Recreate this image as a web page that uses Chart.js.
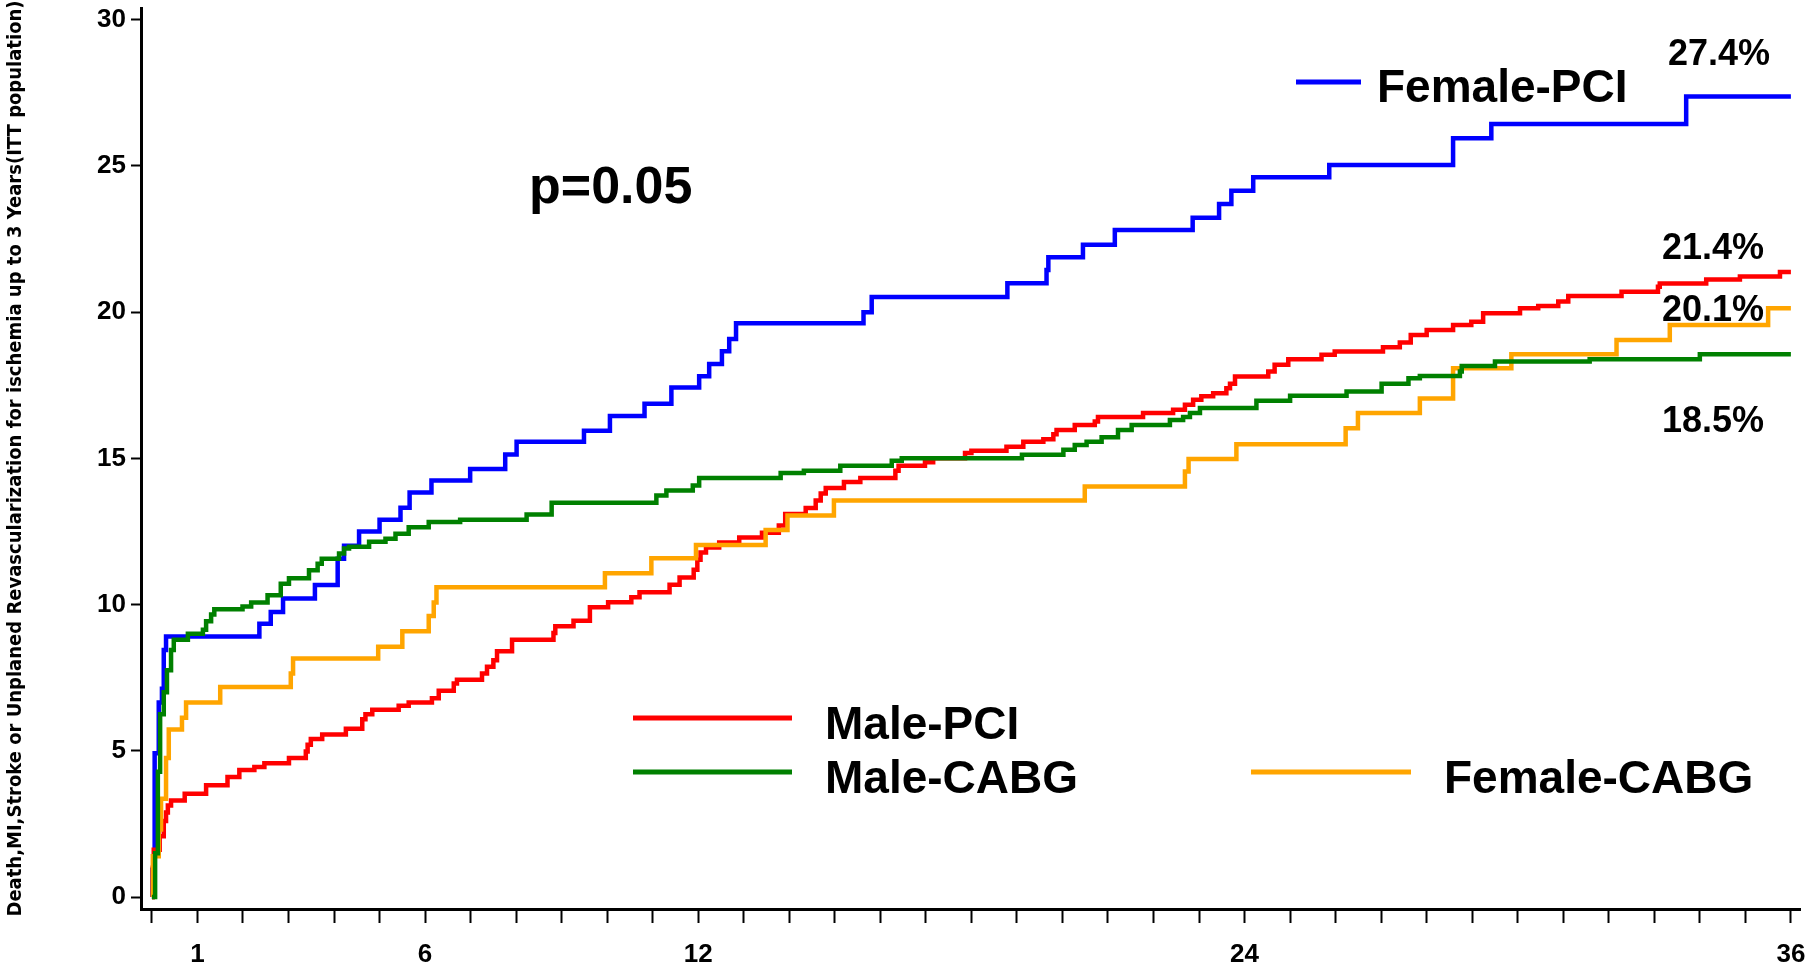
<!DOCTYPE html>
<html>
<head>
<meta charset="utf-8">
<script src="https://cdn.jsdelivr.net/npm/chart.js@4.4.1/dist/chart.umd.min.js"></script>
<style>
  html, body { margin: 0; padding: 0; background: #fff; }
  #wrap { width: 1816px; height: 973px; }
</style>
</head>
<body>
<div id="wrap"><canvas id="kmChart" width="1816" height="973"></canvas></div>
<script>
// months after randomisation at each step, and the cumulative event rate (%) from that month on
var femalePciMonths = [0, 0.01, 0.06, 0.15, 0.22, 0.26, 0.31, 2.36, 2.61, 2.88, 3.58, 4.08, 4.22, 4.55, 5.0, 5.46, 5.66, 6.14, 6.99, 7.76, 8.01,
  9.49, 10.06, 10.82, 11.41, 12.02, 12.24, 12.52, 12.68, 12.83, 15.63, 15.81, 18.79, 19.65, 19.69, 20.45, 21.15, 22.86, 23.44, 23.71, 24.19, 25.86,
  28.58, 29.42, 33.7, 36.0];
var femalePciRates = [0, 0.93, 4.92, 6.65, 7.12, 8.45, 8.91, 9.34, 9.75, 10.21, 10.67, 11.57, 12.01, 12.5, 12.9, 13.31, 13.83, 14.24, 14.64, 15.13, 15.57,
  15.94, 16.45, 16.87, 17.42, 17.81, 18.23, 18.66, 19.08, 19.62, 20.0, 20.52, 20.99, 21.44, 21.88, 22.3, 22.81, 23.23, 23.7, 24.15, 24.61, 25.03,
  25.95, 26.43, 27.37, 27.37];

var malePciMonths = [0, 0.02, 0.04, 0.17, 0.26, 0.31, 0.35, 0.42, 0.72, 1.19, 1.66, 1.92, 2.25, 2.47, 3.01, 3.38, 3.42, 3.49, 3.74, 4.26,
  4.62, 4.69, 4.84, 5.42, 5.64, 6.15, 6.3, 6.63, 6.7, 7.25, 7.36, 7.5, 7.58, 7.91, 8.82, 8.86, 9.26, 9.62, 10.02, 10.53,
  10.71, 11.37, 11.59, 11.9, 11.98, 12.05, 12.17, 12.46, 12.9, 13.4, 13.77, 13.91, 14.36, 14.58, 14.69, 14.8, 15.2, 15.56, 16.33, 16.4,
  16.98, 17.16, 17.86, 18.0, 18.77, 19.14, 19.58, 19.8, 19.87, 20.27, 20.71, 20.78, 21.77, 22.43, 22.69, 22.87, 23.05, 23.31, 23.6, 23.68,
  23.79, 24.52, 24.66, 24.96, 25.69, 25.98, 27.04, 27.41, 27.65, 28.0, 28.58, 28.98, 29.24, 30.05, 30.45, 30.89, 31.11, 32.28, 33.08, 33.12,
  34.14, 34.88, 35.76, 36.0];
var malePciRates = [0, 1.0, 1.62, 2.08, 2.6, 2.89, 3.13, 3.3, 3.53, 3.82, 4.1, 4.34, 4.45, 4.57, 4.75, 4.98, 5.21, 5.4, 5.56, 5.75,
  6.08, 6.25, 6.4, 6.54, 6.65, 6.8, 7.05, 7.3, 7.43, 7.64, 7.87, 8.1, 8.4, 8.8, 9.03, 9.26, 9.45, 9.91, 10.08, 10.25,
  10.42, 10.68, 10.93, 11.19, 11.53, 11.78, 11.95, 12.12, 12.29, 12.46, 12.7, 13.1, 13.3, 13.56, 13.8, 13.99, 14.19, 14.33, 14.58, 14.75,
  14.87, 15.0, 15.18, 15.26, 15.4, 15.57, 15.65, 15.82, 15.97, 16.14, 16.26, 16.41, 16.55, 16.66, 16.83, 17.0, 17.12, 17.23, 17.4, 17.55,
  17.8, 17.97, 18.2, 18.39, 18.54, 18.65, 18.8, 18.96, 19.22, 19.39, 19.56, 19.67, 19.96, 20.13, 20.21, 20.36, 20.55, 20.7, 20.87, 20.98,
  21.12, 21.22, 21.37, 21.37];

var maleCabgMonths = [0, 0.07, 0.13, 0.18, 0.26, 0.33, 0.42, 0.48, 0.79, 1.12, 1.19, 1.3, 1.37, 1.99, 2.18, 2.54, 2.83, 3.01, 3.45, 3.64,
  3.73, 4.11, 4.22, 4.33, 4.77, 5.13, 5.35, 5.64, 6.08, 6.77, 8.23, 8.78, 11.08, 11.3, 11.88, 12.02, 13.81, 14.32, 15.12, 16.25,
  16.47, 19.11, 20.02, 20.27, 20.53, 20.86, 21.22, 21.52, 22.36, 22.65, 22.8, 23.02, 24.26, 25.0, 26.24, 27.01, 27.6, 27.85, 28.73, 28.77,
  29.5, 31.58, 34.0, 36.0];
var maleCabgRates = [0, 1.5, 4.28, 6.25, 7.0, 7.75, 8.45, 8.8, 9.0, 9.14, 9.43, 9.66, 9.84, 9.93, 10.07, 10.32, 10.71, 10.9, 11.17, 11.4,
  11.57, 11.75, 11.92, 11.98, 12.15, 12.25, 12.42, 12.64, 12.82, 12.9, 13.08, 13.48, 13.73, 13.9, 14.07, 14.33, 14.5, 14.58, 14.75, 14.92,
  15.0, 15.12, 15.29, 15.46, 15.57, 15.72, 15.97, 16.14, 16.31, 16.41, 16.55, 16.72, 16.97, 17.14, 17.29, 17.55, 17.74, 17.82, 17.97, 18.16,
  18.31, 18.39, 18.56, 18.56];

var femaleCabgMonths = [0, 0.02, 0.15, 0.2, 0.31, 0.37, 0.66, 0.75, 1.5, 3.05, 3.1, 4.97, 5.5, 6.08, 6.19, 6.25, 9.95, 10.97, 11.95, 13.48,
  13.96, 14.98, 20.49, 22.69, 22.77, 23.82, 26.22, 26.49, 27.85, 28.58, 29.86, 32.17, 33.34, 35.5, 36.0];
var femaleCabgRates = [0, 1.39, 2.31, 3.36, 4.75, 5.73, 6.13, 6.65, 7.18, 7.64, 8.16, 8.56, 9.09, 9.61, 10.07, 10.59, 11.07, 11.58, 12.04, 12.55,
  13.05, 13.56, 14.04, 14.55, 14.98, 15.48, 16.03, 16.55, 17.05, 18.08, 18.56, 19.05, 19.56, 20.13, 20.13];

// axis ticks
var monthTicks = [0, 1, 2, 3, 4, 5, 6, 7, 8, 9, 10, 11, 12, 13, 14, 15, 16, 17, 18, 19, 20, 21, 22, 23, 24, 25, 26, 27, 28, 29, 30, 31, 32, 33, 34, 35, 36];
var monthLabels = [1, 6, 12, 24, 36];
var rateTicks = [0, 5, 10, 15, 20, 25, 30];

// end-of-follow-up rates printed at the right
var finalRates = ['27.4%', '21.4%', '20.1%', '18.5%'];
var pValue = 'p=0.05';

function toPoints(months, rates) {
  return months.map(function (m, i) { return { x: m, y: rates[i] }; });
}

var narrow = '"Liberation Sans Narrow", "DejaVu Sans Condensed", "Arial Narrow", sans-serif';
var arial = '"Liberation Sans", Arial, sans-serif';

// legend lines, p value and end percentages
var annotations = {
  id: 'annotations',
  afterDraw: function (chart) {
    var ctx = chart.ctx;
    ctx.save();
    ctx.lineCap = 'butt';
    ctx.lineWidth = 5;

    var legend = [
      { color: '#0000FF', x1: 1296, x2: 1361, y: 82, tx: 1377, ty: 102, text: 'Female-PCI' },
      { color: '#FF0000', x1: 633, x2: 792, y: 718, tx: 825, ty: 739, text: 'Male-PCI' },
      { color: '#008000', x1: 633, x2: 792, y: 772, tx: 825, ty: 793, text: 'Male-CABG' },
      { color: '#FFA500', x1: 1251, x2: 1411, y: 772, tx: 1444, ty: 793, text: 'Female-CABG' }
    ];
    ctx.font = 'bold 46px ' + arial;
    ctx.fillStyle = '#000';
    ctx.textBaseline = 'alphabetic';
    legend.forEach(function (l) {
      ctx.strokeStyle = l.color;
      ctx.beginPath();
      ctx.moveTo(l.x1, l.y);
      ctx.lineTo(l.x2, l.y);
      ctx.stroke();
      ctx.fillText(l.text, l.tx, l.ty);
    });

    ctx.font = 'bold 52px ' + arial;
    ctx.fillText(pValue, 529, 203);

    ctx.font = 'bold 36px ' + arial;
    ctx.fillText(finalRates[0], 1668, 65);
    ctx.fillText(finalRates[1], 1662, 259);
    ctx.fillText(finalRates[2], 1662, 321);
    ctx.fillText(finalRates[3], 1662, 432);
    ctx.restore();
  }
};

new Chart(document.getElementById('kmChart'), {
  type: 'line',
  data: {
    datasets: [
      { label: 'Male-CABG', data: toPoints(maleCabgMonths, maleCabgRates), borderColor: '#008000' },
      { label: 'Female-CABG', data: toPoints(femaleCabgMonths, femaleCabgRates), borderColor: '#FFA500' },
      { label: 'Male-PCI', data: toPoints(malePciMonths, malePciRates), borderColor: '#FF0000' },
      { label: 'Female-PCI', data: toPoints(femalePciMonths, femalePciRates), borderColor: '#0000FF' }
    ]
  },
  options: {
    responsive: false,
    animation: false,
    layout: { padding: { top: 8, right: 16, left: 0, bottom: 0 } },
    elements: {
      point: { radius: 0 },
      line: { borderWidth: 4.5, stepped: true, fill: false, tension: 0 }
    },
    plugins: {
      legend: { display: false },
      tooltip: { enabled: false }
    },
    scales: {
      x: {
        type: 'linear',
        min: -0.24,
        max: 36.2,
        afterBuildTicks: function (scale) {
          scale.ticks = monthTicks.map(function (v) { return { value: v }; });
        },
        afterFit: function (scale) {
          scale.height = 64;
          scale.paddingLeft = 0;
          scale.paddingRight = 0;
        },
        ticks: {
          autoSkip: false,
          maxRotation: 0,
          padding: 16,
          color: '#000',
          font: { family: arial, size: 26, weight: 'bold' },
          callback: function (v) { return monthLabels.indexOf(v) >= 0 ? String(v) : ''; }
        },
        grid: { drawOnChartArea: false, drawTicks: true, tickLength: 14, tickWidth: 2, tickColor: '#000' },
        border: { display: true, color: '#000', width: 3 }
      },
      y: {
        min: -0.41,
        max: 30.4,
        afterBuildTicks: function (scale) {
          scale.ticks = rateTicks.map(function (v) { return { value: v }; });
        },
        afterFit: function (scale) {
          scale.width = 141;
          scale.paddingTop = 0;
          scale.paddingBottom = 0;
        },
        ticks: {
          padding: 5,
          color: '#000',
          font: { family: arial, size: 26, weight: 'bold' }
        },
        grid: { drawOnChartArea: false, drawTicks: true, tickLength: 10, tickWidth: 2, tickColor: '#000' },
        border: { display: true, color: '#000', width: 3 },
        title: {
          display: true,
          text: 'Death,MI,Stroke or Unplaned Revascularization for ischemia up to 3 Years(ITT population)',
          color: '#000',
          font: { family: narrow, size: 20, weight: 'bold' },
          padding: { top: 4, bottom: 0 }
        }
      }
    }
  },
  plugins: [annotations]
});
</script>
</body>
</html>
